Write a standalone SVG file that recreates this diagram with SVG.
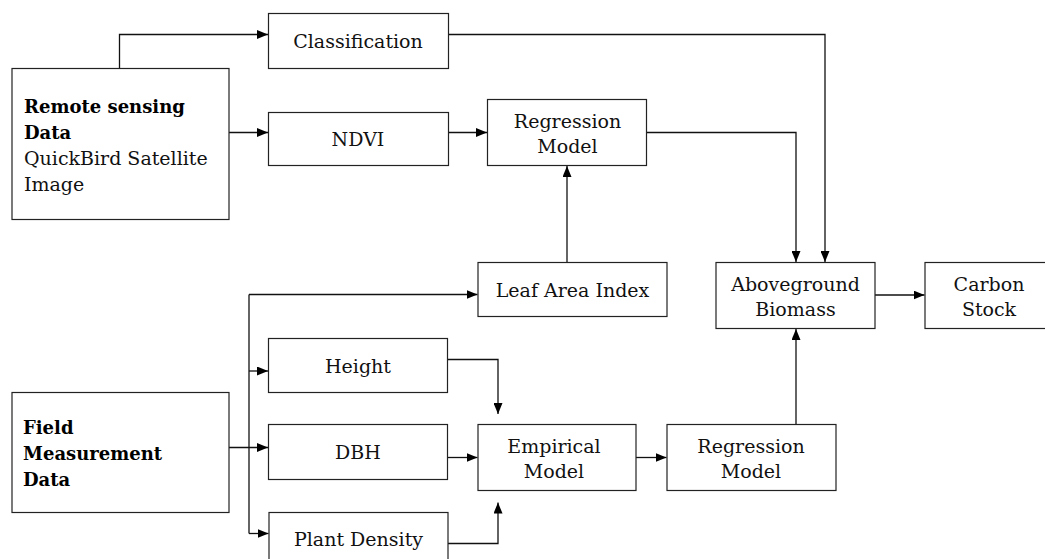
<svg xmlns="http://www.w3.org/2000/svg" width="1045" height="559" viewBox="0 0 1045 559">
<style>
.box{fill:#fff;stroke:#222;stroke-width:1.2}
.t{font-family:"DejaVu Serif","Liberation Serif",serif;font-size:19px;fill:#111;text-anchor:middle}
.tl{font-family:"DejaVu Serif","Liberation Serif",serif;font-size:19px;fill:#111}
.b{font-family:"DejaVu Serif","Liberation Serif",serif;font-size:18px;font-weight:bold;fill:#000}
.c{fill:none;stroke:#111;stroke-width:1.3}
</style>
<defs>
<marker id="ah" viewBox="0 0 11 9" refX="11" refY="4.5" markerWidth="11" markerHeight="9" markerUnits="userSpaceOnUse" orient="auto">
<path d="M0,0 L11,4.5 L0,9 Z" fill="#000"/>
</marker>
</defs>
<rect width="1045" height="559" fill="#fff"/>
<g id="connectors">
<path class="c" d="M119.5,68 V34.5 H268" marker-end="url(#ah)"/>
<path class="c" d="M229,132.5 H268" marker-end="url(#ah)"/>
<path class="c" d="M448.5,132.5 H487" marker-end="url(#ah)"/>
<path class="c" d="M448.5,34.5 H825 V262" marker-end="url(#ah)"/>
<path class="c" d="M646.5,132.5 H796 V262" marker-end="url(#ah)"/>
<path class="c" d="M567,262 V166" marker-end="url(#ah)"/>
<path class="c" d="M229,447.5 H268" marker-end="url(#ah)"/>
<path class="c" d="M249,294.5 V533.5"/>
<path class="c" d="M249,294.5 H477.5" marker-end="url(#ah)"/>
<path class="c" d="M249,371 H268" marker-end="url(#ah)"/>
<path class="c" d="M249,533.5 H268.5" marker-end="url(#ah)"/>
<path class="c" d="M447.5,359.5 H498 V414" marker-end="url(#ah)"/>
<path class="c" d="M447.5,457.5 H477.5" marker-end="url(#ah)"/>
<path class="c" d="M448,543.5 H498 V502.5" marker-end="url(#ah)"/>
<path class="c" d="M636,457.5 H666.5" marker-end="url(#ah)"/>
<path class="c" d="M796,424 V329" marker-end="url(#ah)"/>
<path class="c" d="M875,295 H924.5" marker-end="url(#ah)"/>
</g>
<g id="remote-sensing">
<rect class="box" x="12" y="68.5" width="217" height="151"/>
<text class="b" x="24" y="112.5">Remote sensing</text>
<text class="b" x="24" y="138.5">Data</text>
<text class="tl" x="24" y="165">QuickBird Satellite</text>
<text class="tl" x="24" y="190.5">Image</text>
</g>
<g id="classification">
<rect class="box" x="268.5" y="13.5" width="180" height="55"/>
<text class="t" x="358" y="48">Classification</text>
</g>
<g id="ndvi">
<rect class="box" x="268.5" y="112.5" width="180" height="53"/>
<text class="t" x="358" y="146">NDVI</text>
</g>
<g id="regression-top">
<rect class="box" x="487.5" y="99.5" width="159" height="66"/>
<text class="t" x="567.5" y="128">Regression</text>
<text class="t" x="567.5" y="153">Model</text>
</g>
<g id="lai">
<rect class="box" x="478" y="262.5" width="189" height="54"/>
<text class="t" x="572.5" y="296.5">Leaf Area Index</text>
</g>
<g id="aboveground">
<rect class="box" x="716" y="262.5" width="159" height="66"/>
<text class="t" x="795.5" y="290.5">Aboveground</text>
<text class="t" x="795.5" y="315.5">Biomass</text>
</g>
<g id="carbon">
<rect class="box" x="925" y="262.5" width="130" height="66"/>
<text class="t" x="989" y="290.5">Carbon</text>
<text class="t" x="989" y="315.5">Stock</text>
</g>
<g id="field">
<rect class="box" x="12" y="392.5" width="217" height="120"/>
<text class="b" x="23" y="434">Field</text>
<text class="b" x="23" y="459.5">Measurement</text>
<text class="b" x="23" y="486">Data</text>
</g>
<g id="height">
<rect class="box" x="268.5" y="338.5" width="179" height="54"/>
<text class="t" x="358" y="372.5">Height</text>
</g>
<g id="dbh">
<rect class="box" x="268.5" y="424.5" width="179" height="55"/>
<text class="t" x="358" y="459">DBH</text>
</g>
<g id="plant-density">
<rect class="box" x="269" y="512.5" width="179" height="55"/>
<text class="t" x="358.5" y="545.5">Plant Density</text>
</g>
<g id="empirical">
<rect class="box" x="478" y="424.5" width="158" height="66"/>
<text class="t" x="554" y="453">Empirical</text>
<text class="t" x="554" y="478">Model</text>
</g>
<g id="regression-bottom">
<rect class="box" x="667" y="424.5" width="169" height="66"/>
<text class="t" x="751" y="453">Regression</text>
<text class="t" x="751" y="478">Model</text>
</g>
</svg>
